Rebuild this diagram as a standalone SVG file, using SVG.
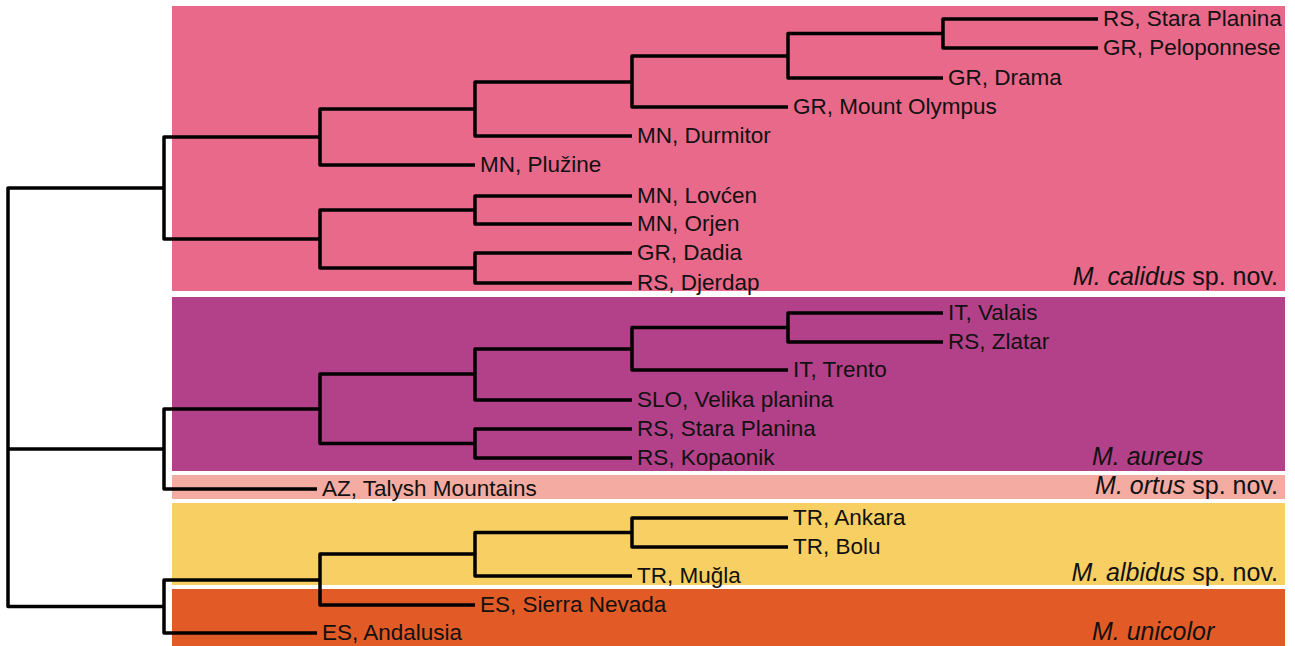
<svg xmlns="http://www.w3.org/2000/svg" width="1295" height="646" viewBox="0 0 1295 646">
<style>
.lbl{font-family:"Liberation Sans",Arial,sans-serif;font-size:22.5px;fill:#111}
.sp{font-family:"Liberation Sans",Arial,sans-serif;font-size:25px;fill:#111}
.it{font-style:italic}
.br{fill:none;stroke:#000;stroke-width:3.5;stroke-linejoin:round;stroke-linecap:butt}
</style>
<rect width="1295" height="646" fill="#fff"/>
<g id="clade-calidus">
<rect x="172" y="6" width="1113" height="285" fill="#E8698A"/>
<text class="sp" x="1278" y="285" text-anchor="end"><tspan class="it">M. calidus</tspan> sp. nov.</text>
</g>
<g id="clade-aureus">
<rect x="172" y="297" width="1113" height="174" fill="#B34189"/>
<text class="sp it" x="1092" y="465">M. aureus</text>
</g>
<g id="clade-ortus">
<rect x="172" y="475" width="1113" height="24" fill="#F3ABA2"/>
<text class="sp" x="1278" y="494" text-anchor="end"><tspan class="it">M. ortus</tspan> sp. nov.</text>
</g>
<g id="clade-albidus">
<rect x="172" y="503" width="1113" height="82" fill="#F8CF62"/>
<text class="sp" x="1278" y="581" text-anchor="end"><tspan class="it">M. albidus</tspan> sp. nov.</text>
</g>
<g id="clade-unicolor">
<rect x="172" y="589" width="1113" height="57" fill="#E25B27"/>
<text class="sp it" x="1092" y="640">M. unicolor</text>
</g>
<g id="connectors" class="br">
<path d="M1098,19 H943 V48 H1098"/>
<path d="M943,33.5 H788 V78 H943"/>
<path d="M788,56 H632 V107 H788"/>
<path d="M632,82 H475 V136 H632"/>
<path d="M475,109 H320 V165 H475"/>
<path d="M632,196 H475 V224 H632"/>
<path d="M632,253 H475 V283 H632"/>
<path d="M475,210 H320 V268 H475"/>
<path d="M320,137 H164 V239 H320"/>
<path d="M943,313 H788 V342 H943"/>
<path d="M788,327.5 H632 V370 H788"/>
<path d="M632,349 H475 V400 H632"/>
<path d="M632,429 H475 V458 H632"/>
<path d="M475,374 H320 V443.5 H475"/>
<path d="M320,409 H164 V489 H317"/>
<path d="M788,518 H632 V547 H788"/>
<path d="M632,532.5 H475 V576 H632"/>
<path d="M475,554 H320 V605 H475"/>
<path d="M320,580 H164 V633 H317"/>
<path d="M164,188 H8 V606.5 H164"/>
<path d="M8,449 H164"/>
</g>
<g id="leaf-01"><text class="lbl" x="1103" y="26">RS, Stara Planina</text></g>
<g id="leaf-02"><text class="lbl" x="1103" y="55">GR, Peloponnese</text></g>
<g id="leaf-03"><text class="lbl" x="948" y="85">GR, Drama</text></g>
<g id="leaf-04"><text class="lbl" x="793" y="114">GR, Mount Olympus</text></g>
<g id="leaf-05"><text class="lbl" x="637" y="143">MN, Durmitor</text></g>
<g id="leaf-06"><text class="lbl" x="480" y="172">MN, Plužine</text></g>
<g id="leaf-07"><text class="lbl" x="637" y="203">MN, Lovćen</text></g>
<g id="leaf-08"><text class="lbl" x="637" y="231">MN, Orjen</text></g>
<g id="leaf-09"><text class="lbl" x="637" y="260">GR, Dadia</text></g>
<g id="leaf-10"><text class="lbl" x="637" y="290">RS, Djerdap</text></g>
<g id="leaf-11"><text class="lbl" x="948" y="320">IT, Valais</text></g>
<g id="leaf-12"><text class="lbl" x="948" y="349">RS, Zlatar</text></g>
<g id="leaf-13"><text class="lbl" x="793" y="377">IT, Trento</text></g>
<g id="leaf-14"><text class="lbl" x="637" y="407">SLO, Velika planina</text></g>
<g id="leaf-15"><text class="lbl" x="637" y="436">RS, Stara Planina</text></g>
<g id="leaf-16"><text class="lbl" x="637" y="465">RS, Kopaonik</text></g>
<g id="leaf-17"><text class="lbl" x="322" y="496">AZ, Talysh Mountains</text></g>
<g id="leaf-18"><text class="lbl" x="793" y="525">TR, Ankara</text></g>
<g id="leaf-19"><text class="lbl" x="793" y="554">TR, Bolu</text></g>
<g id="leaf-20"><text class="lbl" x="637" y="583">TR, Muğla</text></g>
<g id="leaf-21"><text class="lbl" x="480" y="612">ES, Sierra Nevada</text></g>
<g id="leaf-22"><text class="lbl" x="322" y="640">ES, Andalusia</text></g>
</svg>
